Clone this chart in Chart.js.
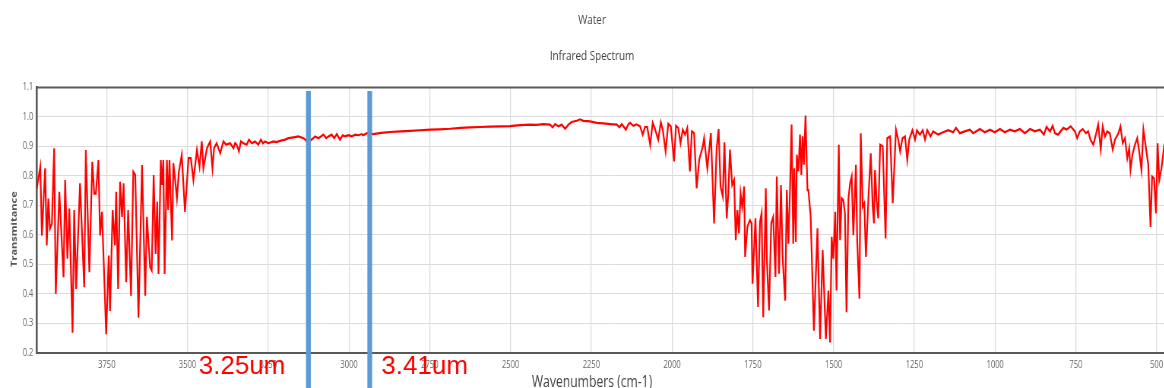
<!DOCTYPE html>
<html>
<head>
<meta charset="utf-8">
<script src="https://cdn.jsdelivr.net/npm/chart.js@4/dist/chart.umd.min.js"></script>
<style>
  html, body { margin: 0; padding: 0; overflow: hidden; background: #fff; }
  #wrap { position: absolute; left: 0; top: 0; width: 1558px; height: 400px; transform-origin: 0 0; }
</style>
</head>
<body>
<div id="wrap"><canvas id="c" width="1558" height="400" style="width:1558px;height:400px"></canvas></div>
<script>
// ---- data ----
const chartTitle = ['Water', 'Infrared Spectrum'];
const xAxisTitle = 'Wavenumbers (cm-1)';
const yAxisTitle = 'Transmitance';

const xTickValues = [3750, 3500, 3250, 3000, 2750, 2500, 2250, 2000, 1750, 1500, 1250, 1000, 750, 500];
const yTickValues = [0.2, 0.3, 0.4, 0.5, 0.6, 0.7, 0.8, 0.9, 1.0, 1.1];

const wavenumbers = [
  3967, 3956, 3951, 3941, 3936, 3931, 3926, 3920, 3913, 3908,
  3897, 3884, 3879, 3872, 3866, 3856, 3851, 3845, 3833, 3820,
  3815, 3804, 3795, 3789, 3784, 3776, 3771, 3765, 3752, 3744,
  3740, 3732, 3725, 3721, 3715, 3709, 3703, 3698, 3690, 3684,
  3675, 3668, 3662, 3652, 3641, 3631, 3626, 3616, 3611, 3605,
  3599, 3594, 3590, 3583, 3579, 3575, 3571, 3564, 3560, 3556,
  3548, 3544, 3538, 3533, 3527, 3518, 3508, 3497, 3490, 3482,
  3471, 3463, 3456, 3451, 3440, 3430, 3423, 3418, 3410, 3399,
  3389, 3381, 3368,
  3358, 3353, 3348, 3341, 3335, 3327, 3317, 3310, 3301, 3291,
  3281, 3273, 3267, 3260, 3250, 3234, 3224, 3214, 3198, 3188,
  3172, 3157, 3141, 3136, 3131, 3116, 3105, 3095, 3079, 3071,
  3064, 3054, 3046, 3038, 3028, 3020, 3012, 3002, 2992, 2981,
  2971, 2961, 2956, 2945,
  2925, 2900, 2873, 2840, 2811, 2780, 2749, 2720, 2687, 2655,
  2626, 2595, 2564, 2530, 2502, 2470, 2440, 2420, 2399, 2378,
  2370, 2362, 2352, 2342, 2331, 2321, 2311, 2295, 2285, 2275,
  2254, 2233, 2213, 2192, 2171, 2163, 2156, 2143, 2135,
  2130, 2120, 2110, 2099, 2091, 2084, 2077, 2068, 2060, 2053,
  2043, 2035, 2029, 2020, 2012, 2004, 1994, 1988, 1981, 1974,
  1967, 1960, 1953, 1945, 1939, 1932, 1924, 1916, 1905, 1901,
  1891, 1880, 1870, 1862, 1856, 1850, 1843, 1838, 1831, 1826,
  1821, 1814, 1808, 1803, 1798, 1793, 1788, 1783, 1777, 1774,
  1767, 1759, 1754, 1751, 1742, 1734, 1728, 1723, 1718, 1710,
  1707, 1700, 1693, 1687, 1680, 1676, 1669, 1663, 1658, 1650,
  1645, 1640, 1635, 1630, 1625, 1622, 1617, 1614, 1609, 1604,
  1600, 1596, 1592, 1587, 1581, 1578, 1571, 1561, 1550, 1542,
  1534, 1524, 1516, 1511, 1506, 1501, 1495, 1491, 1484, 1480,
  1475, 1470, 1465, 1460, 1454, 1449, 1444, 1439, 1431, 1427,
  1420, 1416, 1410, 1405, 1400, 1392, 1385, 1379, 1375, 1372,
  1367, 1362, 1356, 1348, 1339, 1334, 1325, 1317, 1307, 1300,
  1294,
  1287, 1279, 1272, 1266, 1256, 1248, 1242, 1233, 1224, 1217,
  1210, 1200, 1192, 1176, 1161, 1145, 1130, 1121, 1109, 1094,
  1078, 1068, 1047, 1032, 1016, 1001, 985, 970, 954, 939,
  923, 908, 892, 877, 861, 849, 841, 830, 822, 815,
  805, 789, 779, 766, 753, 746, 738, 729, 719, 712,
  705, 696, 688, 681, 673, 667, 660, 653, 645, 636,
  629, 619, 612, 605, 598, 591, 585, 581, 575, 567,
  560, 554, 547, 541, 533, 526, 519, 514, 508, 502,
  497, 492, 485, 477, 470, 460
];

const transmittance = [
  0.757, 0.831, 0.598, 0.826, 0.564, 0.723, 0.621, 0.638, 0.894, 0.399,
  0.746, 0.456, 0.786, 0.519, 0.689, 0.268, 0.684, 0.416, 0.775, 0.422,
  0.888, 0.473, 0.848, 0.740, 0.740, 0.854, 0.598, 0.678, 0.263, 0.530,
  0.342, 0.684, 0.564, 0.746, 0.416, 0.780, 0.661, 0.775, 0.439, 0.684,
  0.393, 0.814, 0.803, 0.319, 0.837, 0.393, 0.661, 0.490, 0.479, 0.803,
  0.535, 0.712, 0.467, 0.854, 0.769, 0.854, 0.467, 0.854, 0.684, 0.854,
  0.581, 0.843, 0.780, 0.723, 0.814, 0.871, 0.678, 0.860, 0.860, 0.786,
  0.888, 0.831, 0.917, 0.826, 0.894, 0.917, 0.826, 0.894, 0.911, 0.877,
  0.917, 0.906, 0.911,
  0.894, 0.911, 0.906, 0.883, 0.917, 0.911, 0.906, 0.923, 0.911, 0.917,
  0.906, 0.923, 0.911, 0.917, 0.911, 0.917, 0.915, 0.919, 0.923, 0.928,
  0.931, 0.934, 0.928, 0.923, 0.917, 0.923, 0.934, 0.928, 0.940, 0.928,
  0.934, 0.940, 0.928, 0.942, 0.923, 0.938, 0.934, 0.938, 0.934, 0.940,
  0.938, 0.942, 0.938, 0.945,
  0.942, 0.946, 0.949, 0.951, 0.953, 0.955, 0.957, 0.958, 0.960, 0.963,
  0.965, 0.966, 0.967, 0.968, 0.969, 0.972, 0.974, 0.973, 0.976, 0.974,
  0.965, 0.976, 0.968, 0.974, 0.960, 0.974, 0.983, 0.987, 0.992, 0.987,
  0.985, 0.980, 0.978, 0.976, 0.974, 0.965, 0.976, 0.957, 0.976,
  0.980, 0.970, 0.975, 0.968, 0.940, 0.966, 0.966, 0.906, 0.980, 0.959,
  0.923, 0.982, 0.957, 0.883, 0.977, 0.968, 0.849, 0.970, 0.963, 0.911,
  0.957, 0.940, 0.963, 0.815, 0.951, 0.945, 0.758, 0.855, 0.900, 0.928,
  0.826, 0.945, 0.639, 0.894, 0.959, 0.764, 0.730, 0.914, 0.656, 0.741,
  0.889, 0.769, 0.786, 0.582, 0.684, 0.605, 0.741, 0.695, 0.764, 0.525,
  0.627, 0.650, 0.639, 0.434, 0.656, 0.355, 0.644, 0.673, 0.320, 0.758,
  0.525, 0.343, 0.639, 0.661, 0.457, 0.798, 0.468, 0.769, 0.525, 0.377,
  0.752, 0.570, 0.752, 0.974, 0.570, 0.826, 0.576, 0.872, 0.815, 0.940,
  0.803, 0.934, 0.838, 1.005, 0.752, 0.752, 0.661, 0.275, 0.622, 0.247,
  0.548, 0.247, 0.411, 0.235, 0.593, 0.519, 0.678, 0.411, 0.906, 0.582,
  0.724, 0.718, 0.673, 0.337, 0.724, 0.775, 0.798, 0.599, 0.838, 0.582,
  0.383, 0.945, 0.695, 0.707, 0.525, 0.730, 0.877, 0.695, 0.639, 0.820,
  0.718, 0.656, 0.906, 0.900, 0.588, 0.928, 0.934, 0.707, 0.957, 0.923,
  0.883,
  0.928, 0.934, 0.855, 0.923, 0.955, 0.923, 0.955, 0.940, 0.955, 0.923,
  0.955, 0.934, 0.951, 0.940, 0.948, 0.955, 0.948, 0.963, 0.945, 0.951,
  0.957, 0.945, 0.959, 0.948, 0.957, 0.948, 0.959, 0.948, 0.957, 0.951,
  0.959, 0.945, 0.959, 0.951, 0.957, 0.940, 0.966, 0.951, 0.970, 0.945,
  0.940, 0.963, 0.957, 0.968, 0.951, 0.928, 0.951, 0.959, 0.945, 0.951,
  0.923, 0.906, 0.940, 0.974, 0.891, 0.968, 0.934, 0.951, 0.945, 0.889,
  0.923, 0.943, 0.968, 0.911, 0.928, 0.860, 0.894, 0.820, 0.872, 0.906,
  0.928, 0.883, 0.820, 0.957, 0.894, 0.838, 0.627, 0.798, 0.792, 0.673,
  0.911, 0.786, 0.826, 0.900, 0.880, 0.850
];

// annotation markers (wavenumber positions of the two blue bars)
const markerWavenumbers = [3126, 2936];
const markerLabels = ['3.25um', '3.41um'];
const markerLabelSide = ['left', 'right'];

// ---- rendering ----
const SQUEEZE = 0.76; // the reference screenshot is horizontally compressed
document.getElementById('wrap').style.transform = 'scaleX(' + SQUEEZE + ')';

Chart.defaults.font.family = '"Open Sans", "Noto Sans", sans-serif';

const framePlugin = {
  id: 'frame',
  beforeDatasetsDraw(chart) {
    const { ctx, chartArea } = chart;
    ctx.save();
    ctx.strokeStyle = '#5a5a5a';
    ctx.lineWidth = 2;
    ctx.beginPath();
    ctx.moveTo(chartArea.left, chartArea.top);
    ctx.lineTo(chartArea.right, chartArea.top);
    ctx.stroke();
    ctx.restore();
  },
  afterDraw(chart) {
    const { ctx, chartArea } = chart;
    const xs = chart.scales.x;
    // y axis title (slightly below the plot centre, as in the reference)
    ctx.save();
    ctx.translate(18.4, (chartArea.top + chartArea.bottom) / 2 + 9);
    ctx.rotate(-Math.PI / 2);
    ctx.fillStyle = '#555';
    ctx.font = 'bold 11px "Open Sans", "Noto Sans", sans-serif';
    ctx.textAlign = 'center';
    ctx.textBaseline = 'middle';
    ctx.fillText(yAxisTitle, 0, 0);
    ctx.restore();

    ctx.save();
    ctx.scale(1 / SQUEEZE, 1); // draw annotations in uncompressed screen units
    markerWavenumbers.forEach((w, i) => {
      const sx = xs.getPixelForValue(w) * SQUEEZE;
      ctx.fillStyle = '#5B9BD5';
      ctx.fillRect(sx - 2.4, chartArea.top + 3.5, 4.8, chart.height);
      ctx.fillStyle = '#FF0000';
      ctx.font = '26px "Liberation Sans", Arial, sans-serif';
      ctx.textBaseline = 'alphabetic';
      if (markerLabelSide[i] === 'left') {
        ctx.textAlign = 'right';
        ctx.fillText(markerLabels[i], sx - 23, chartArea.bottom + 21.5);
      } else {
        ctx.textAlign = 'left';
        ctx.fillText(markerLabels[i], sx + 11.5, chartArea.bottom + 21.5);
      }
    });
    ctx.restore();
  }
};

new Chart(document.getElementById('c'), {
  type: 'line',
  data: {
    datasets: [{
      label: 'Water',
      data: wavenumbers.map((w, i) => ({ x: w, y: transmittance[i] })),
      borderColor: '#FF0000',
      borderWidth: 2.2,
      pointRadius: 0,
      tension: 0,
      fill: false
    }]
  },
  options: {
    responsive: false,
    animation: false,
    devicePixelRatio: 1,
    layout: { padding: 0 },
    plugins: {
      legend: { display: false },
      tooltip: { enabled: false },
      title: {
        display: true,
        text: chartTitle,
        color: '#444',
        font: { size: 13, weight: 'normal', lineHeight: 36 / 13 },
        padding: { top: 2, bottom: 13.5 }
      },
      subtitle: {
        display: true,
        position: 'bottom',
        text: xAxisTitle,
        color: '#444',
        font: { size: 16, weight: 'normal', lineHeight: 1.2 },
        padding: { top: 0, bottom: 8.4 }
      }
    },
    scales: {
      x: {
        type: 'linear',
        reverse: true,
        min: 415,
        max: 3967,
        afterBuildTicks(scale) { scale.ticks = xTickValues.map(v => ({ value: v })); },
        afterFit(scale) { scale.height = 19.7; },
        ticks: { color: '#666', font: { size: 10 }, padding: 6, maxRotation: 0, autoSkip: false,
                 callback: v => String(v) },
        grid: { color: '#dcdcdc', lineWidth: 1.3, drawTicks: false },
        border: { display: true, color: '#5a5a5a', width: 2 }
      },
      y: {
        type: 'linear',
        min: 0.2,
        max: 1.1,
        afterBuildTicks(scale) { scale.ticks = yTickValues.map(v => ({ value: v })); },
        afterFit(scale) { scale.width = 48.3; },
        ticks: { color: '#666', font: { size: 10 }, padding: 4.5, callback: v => v.toFixed(1) },
        grid: { color: '#dcdcdc', lineWidth: 1, drawTicks: false },
        border: { display: true, color: '#5a5a5a', width: 2.6 },
        title: { display: false }
      }
    }
  },
  plugins: [framePlugin]
});
</script>
</body>
</html>
